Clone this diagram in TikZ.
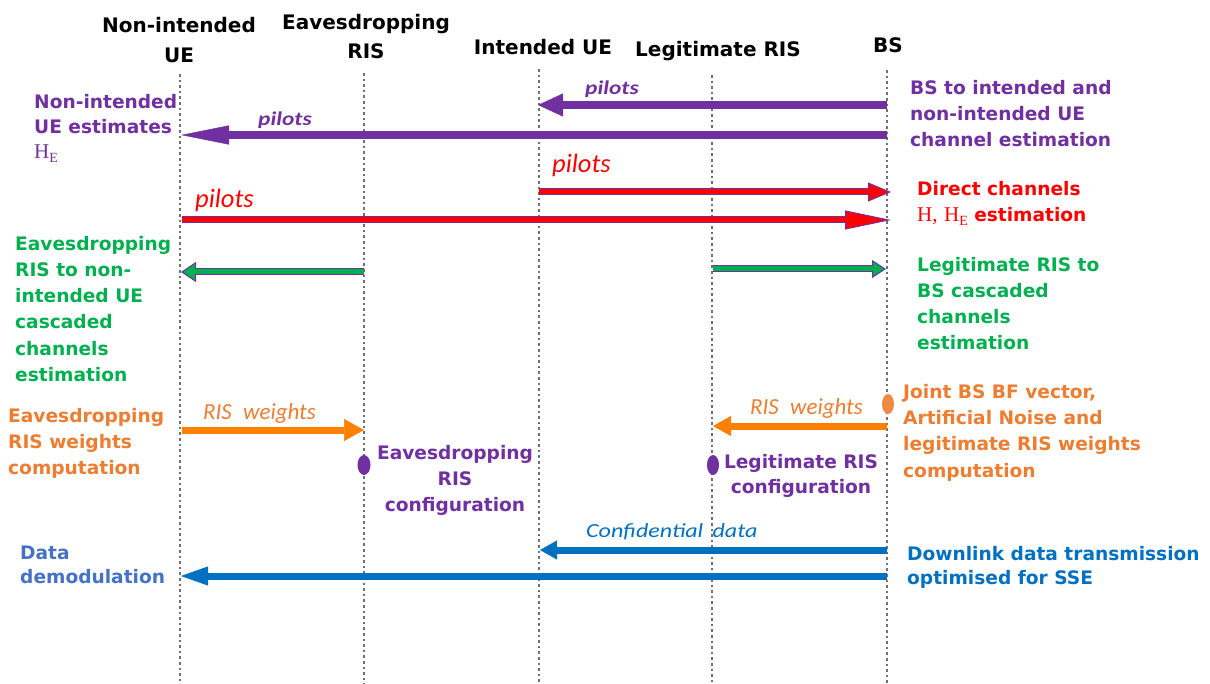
\documentclass[tikz,border=0pt]{standalone}
\usepackage{fontspec}
\setmainfont{DejaVu Sans}
\newfontfamily\lblfont{Carlito}
\newfontfamily\lblwide[FakeStretch=1.2]{Carlito}
\newfontfamily\hfont{Liberation Serif}
\newcommand{\HE}{{\hfont\mdseries\fontsize{21}{21}\selectfont H\raisebox{-4pt}{\fontsize{14}{14}\selectfont E}}}
\newcommand{\HH}{{\hfont\mdseries\fontsize{21}{21}\selectfont H,}}
\usetikzlibrary{arrows.meta,shapes.geometric}
\definecolor{cpurple}{HTML}{7030A0}
\definecolor{cred}{HTML}{FF0000}
\definecolor{cgreen}{HTML}{00B050}
\definecolor{corange}{HTML}{ED7D31}
\definecolor{carrow}{HTML}{FF8000}
\definecolor{cblue}{HTML}{0070C0}
\definecolor{cblue2}{HTML}{4472C4}
\definecolor{cline}{HTML}{707070}
\tikzset{
  lifeline/.style={draw=cline, line width=2.6pt, dash pattern=on 2.6pt off 3pt},
  body/.style={font=\bfseries\fontsize{18.6}{26}\selectfont, inner sep=0pt, align=left, anchor=north west},
  head/.style={font=\bfseries\fontsize{20}{30}\selectfont, inner sep=0pt, align=center},
  plbl/.style={font=\lblwide\bfseries\itshape\fontsize{19.5}{22}\selectfont, inner sep=0pt, anchor=base west, text=cpurple},
  rlbl/.style={font=\lblfont\itshape\fontsize{26.5}{30}\selectfont, inner sep=0pt, anchor=base west, text=cred},
  olbl/.style={font=\lblfont\itshape\fontsize{23}{26}\selectfont, inner sep=0pt, anchor=base west, text=corange},
  blbl/.style={font=\lblwide\itshape\fontsize{20}{24}\selectfont, inner sep=0pt, anchor=base west, text=cblue},
  dot/.style={ellipse, inner sep=0pt, minimum width=12pt, minimum height=20pt},
}
\begin{document}
\begin{tikzpicture}[x=1pt,y=-1pt]
\useasboundingbox (0,0) rectangle (1210,684);
\fill[white] (0,0) rectangle (1210,684);

% lifelines
\coordinate (niT) at (180,74);  \coordinate (niB) at (180,684);
\coordinate (erT) at (364,73);  \coordinate (erB) at (364,684);
\coordinate (iuT) at (539,69);  \coordinate (iuB) at (539,684);
\coordinate (lrT) at (712,75);  \coordinate (lrB) at (712,684);
\coordinate (bsT) at (887,70);  \coordinate (bsB) at (887,684);
\draw[lifeline] (niT) -- (niB);
\draw[lifeline] (erT) -- (erB);
\draw[lifeline] (iuT) -- (iuB);
\draw[lifeline] (lrT) -- (lrB);
\draw[lifeline] (bsT) -- (bsB);

% headers
\node[head, anchor=north] (hNI) at (179,17) {Non-intended\\UE};
\node[head, anchor=north] (hER) at (366,14) {Eavesdropping\\[-1pt]RIS};
\node[head, anchor=base] (hIU) at (543,55) {Intended UE};
\node[head, anchor=base] (hLR) at (718,57) {Legitimate RIS};
\node[head, anchor=base] (hBS) at (888,53) {BS};

% purple pilots
\coordinate (p1s) at (887,105); \coordinate (p1e) at (538,105);
\coordinate (p2s) at (887,135); \coordinate (p2e) at (181,135);
\draw[cpurple, line width=8.5pt, -{Triangle[length=25pt, width=23pt, line width=0.5pt]}] (p1s) -- (p1e);
\draw[cpurple, line width=8pt, -{Triangle[length=48pt, width=19pt, line width=0.5pt]}] (p2s) -- (p2e);
\node[plbl] (lp1) at (585,95) {pilots};
\node[plbl] (lp2) at (258,126) {pilots};
\node[body, text=cpurple] (tBS) at (910,80) {BS to intended and\\non-intended UE\\channel estimation};
\node[body, text=cpurple, font=\bfseries\fontsize{18.6}{25}\selectfont] (tNI) at (34,94) {Non-intended\\UE estimates\\\HE};

% red pilots
\coordinate (r1s) at (539,192); \coordinate (r1e) at (891,192);
\coordinate (r2s) at (182,220); \coordinate (r2e) at (891,220);
\draw[cpurple, line width=7pt, -{Triangle[length=23pt, width=19pt, line width=1pt, fill=cred]}] (r1s) -- (r1e);
\draw[cred, line width=5pt, shorten >=22pt] (r1s) -- (r1e);
\draw[cpurple, line width=7pt, -{Triangle[length=46pt, width=19pt, line width=1pt, fill=cred]}] (r2s) -- (r2e);
\draw[cred, line width=5pt, shorten >=45pt] (r2s) -- (r2e);
\node[rlbl] (lr1) at (552,173) {pilots};
\node[rlbl] (lr2) at (195,208) {pilots};
\node[body, text=cred] (tDC) at (917,181) {Direct channels\\\HH{} \HE{} estimation};

% green cascaded
\coordinate (g1s) at (364,272); \coordinate (g1e) at (181,272);
\coordinate (g2s) at (713,269); \coordinate (g2e) at (886,269);
\draw[cpurple, line width=7pt, -{Triangle[length=15pt, width=20pt, line width=1pt, fill=cgreen]}] (g1s) -- (g1e);
\draw[cgreen, line width=5pt, shorten >=14pt] (g1s) -- (g1e);
\draw[cpurple, line width=7pt, -{Triangle[length=14pt, width=18pt, line width=1pt, fill=cgreen]}] (g2s) -- (g2e);
\draw[cgreen, line width=5pt, shorten >=13pt] (g2s) -- (g2e);
\node[body, text=cgreen, font=\bfseries\fontsize{18.6}{26.2}\selectfont] (tEG) at (15,236) {Eavesdropping\\RIS to non-\\intended UE\\cascaded\\channels\\estimation};
\node[body, text=cgreen] (tLG) at (917,257) {Legitimate RIS to\\BS cascaded\\channels\\estimation};

% orange RIS weights
\coordinate (o1s) at (182,430); \coordinate (o1e) at (364,430);
\coordinate (o2s) at (887,426); \coordinate (o2e) at (713,426);
\draw[carrow, line width=7pt, -{Triangle[length=20pt, width=22pt, line width=0.5pt]}] (o1s) -- (o1e);
\draw[carrow, line width=7pt, -{Triangle[length=18pt, width=20pt, line width=0.5pt]}] (o2s) -- (o2e);
\node[olbl] (lo1) at (203,419) {RIS\hspace{6pt} weights};
\node[olbl] (lo2) at (750,414) {RIS\hspace{6pt} weights};
\node[dot, fill=corange!90] (dBS) at (888,404) {};
\node[body, text=corange] (tEW) at (8,408) {Eavesdropping\\RIS weights\\computation};
\node[body, text=corange, font=\bfseries\fontsize{18.6}{26.3}\selectfont] (tJW) at (903,384) {Joint BS BF vector,\\Artificial Noise and\\legitimate RIS weights\\computation};

% configuration
\node[dot, fill=cpurple, minimum width=13pt] (dER) at (364,465) {};
\node[dot, fill=cpurple] (dLR) at (713,465) {};
\node[body, text=cpurple, align=center, anchor=north] (tEC) at (455,445) {Eavesdropping\\RIS\\configuration};
\node[body, text=cpurple, align=center, anchor=north, font=\bfseries\fontsize{18.6}{25}\selectfont] (tLC) at (801,454) {Legitimate RIS\\configuration};

% data transmission
\coordinate (b1s) at (887,550); \coordinate (b1e) at (540,550);
\coordinate (b2s) at (887,576); \coordinate (b2e) at (181,576);
\draw[cblue, line width=7pt, -{Triangle[length=17pt, width=19pt, line width=0.5pt]}] (b1s) -- (b1e);
\draw[cblue, line width=7pt, -{Triangle[length=27pt, width=19pt, line width=0.5pt]}] (b2s) -- (b2e);
\node[blbl] (lb1) at (586,537) {Confidential\hspace{4pt} data};
\node[body, text=cblue2, font=\bfseries\fontsize{18.6}{24}\selectfont] (tDD) at (20,546) {Data\\demodulation};
\node[body, text=cblue, font=\bfseries\fontsize{18.6}{24}\selectfont] (tDL) at (907,546) {Downlink data transmission\\optimised for SSE};
\end{tikzpicture}
\end{document}
